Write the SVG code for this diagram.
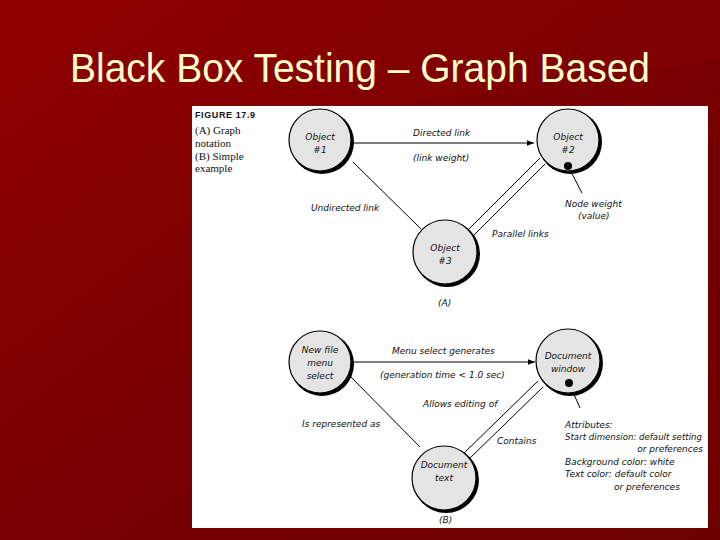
<svg xmlns="http://www.w3.org/2000/svg" width="720" height="540" viewBox="0 0 720 540">
<defs>
<linearGradient id="bg" x1="0" y1="0" x2="1" y2="1">
<stop offset="0" stop-color="#930000"/>
<stop offset="0.45" stop-color="#7a0000"/>
<stop offset="1" stop-color="#6c0000"/>
</linearGradient>
<marker id="arr" viewBox="0 0 10 10" refX="10" refY="5" markerWidth="7" markerHeight="7" markerUnits="userSpaceOnUse" orient="auto">
<path d="M0,1 L10,5 L0,9 z" fill="#000"/>
</marker>
<style>
.title{font-family:"Liberation Sans","DejaVu Sans",sans-serif;font-size:40px;fill:#ffffcc}
.node{fill:#e4e4e4;stroke:#000;stroke-width:1.2}
.shadow{fill:#000}
.lbl{font-family:"DejaVu Sans","Liberation Sans",sans-serif;font-style:italic;font-size:9px;fill:#111}
.nt{font-family:"DejaVu Sans","Liberation Sans",sans-serif;font-style:italic;font-size:9px;fill:#111;text-anchor:middle}
.cap{font-family:"Liberation Serif","DejaVu Serif",serif;font-size:11px;fill:#111}
.fig{font-family:"Liberation Sans","DejaVu Sans",sans-serif;font-weight:bold;font-size:9px;fill:#111;letter-spacing:0.6px}
.ln{stroke:#000;stroke-width:1;fill:none}
</style>
</defs>
<rect x="0" y="0" width="720" height="540" fill="url(#bg)"/>
<polygon points="0,0 720,0 720,60 0,160" fill="#8a0000" opacity="0.35"/>
<text class="title" x="70" y="82" textLength="580" lengthAdjust="spacingAndGlyphs">Black Box Testing – Graph Based</text>
<rect x="192" y="106" width="516" height="422" fill="#ffffff"/>

<g id="caption">
<text class="fig" x="195" y="118">FIGURE 17.9</text>
<text class="cap" x="195" y="134">(A) Graph</text>
<text class="cap" x="195" y="147">notation</text>
<text class="cap" x="195" y="160">(B) Simple</text>
<text class="cap" x="195" y="172">example</text>
</g>

<g id="connectors">
<line class="ln" x1="352" y1="143" x2="534" y2="143" marker-end="url(#arr)"/>
<line class="ln" x1="353" y1="162" x2="421" y2="229"/>
<line class="ln" x1="468" y1="230" x2="540" y2="158"/>
<line class="ln" x1="473" y1="236" x2="545" y2="164"/>
<line class="ln" x1="568" y1="166" x2="582" y2="193"/>
<line class="ln" x1="352" y1="362" x2="535" y2="362" marker-end="url(#arr)"/>
<line class="ln" x1="348" y1="374" x2="420" y2="447"/>
<line class="ln" x1="462" y1="455" x2="538" y2="381"/>
<line class="ln" x1="467" y1="461" x2="543" y2="387"/>
<line class="ln" x1="569" y1="383" x2="580" y2="408"/>
<text class="lbl" x="413" y="136">Directed link</text>
<text class="lbl" x="413" y="161">(link weight)</text>
<text class="lbl" x="311" y="211">Undirected link</text>
<text class="lbl" x="492" y="237">Parallel links</text>
<text class="lbl" x="565" y="207">Node weight</text>
<text class="lbl" x="578" y="219">(value)</text>
<text class="lbl" x="438" y="306">(A)</text>
<text class="lbl" x="392" y="354">Menu select generates</text>
<text class="lbl" x="380" y="378">(generation time &lt; 1.0 sec)</text>
<text class="lbl" x="423" y="407" font-style="normal">Allows editing of</text>
<text class="lbl" x="302" y="427">Is represented as</text>
<text class="lbl" x="497" y="444">Contains</text>
<text class="lbl" x="439" y="523">(B)</text>
<text class="lbl" x="565" y="428">Attributes:</text>
<text class="lbl" x="565" y="440" textLength="137" lengthAdjust="spacingAndGlyphs">Start dimension: default setting</text>
<text class="lbl" x="703" y="452" text-anchor="end">or preferences</text>
<text class="lbl" x="565" y="465">Background color: white</text>
<text class="lbl" x="565" y="477">Text color: default color</text>
<text class="lbl" x="614" y="490">or preferences</text>
</g>

<g id="n1">
<circle class="shadow" cx="322" cy="142" r="32"/>
<circle class="node" cx="320" cy="140" r="31"/>
<text class="nt" x="320" y="140">Object</text>
<text class="nt" x="320" y="153">#1</text>
</g>
<g id="n2">
<circle class="shadow" cx="570" cy="142" r="32"/>
<circle class="node" cx="568" cy="140" r="31"/>
<text class="nt" x="568" y="140">Object</text>
<text class="nt" x="568" y="153">#2</text>
<circle cx="568" cy="166" r="4" fill="#000"/>
</g>
<g id="n3">
<circle class="shadow" cx="447" cy="254" r="33"/>
<circle class="node" cx="445" cy="252" r="32"/>
<text class="nt" x="445" y="251">Object</text>
<text class="nt" x="445" y="264">#3</text>
</g>
<g id="n4">
<circle class="shadow" cx="322" cy="364" r="32"/>
<circle class="node" cx="320" cy="362" r="31"/>
<text class="nt" x="320" y="353">New file</text>
<text class="nt" x="320" y="366">menu</text>
<text class="nt" x="320" y="379">select</text>
</g>
<g id="n5">
<circle class="shadow" cx="570" cy="363" r="33"/>
<circle class="node" cx="568" cy="361" r="32"/>
<text class="nt" x="568" y="359">Document</text>
<text class="nt" x="568" y="372">window</text>
<circle cx="569" cy="383" r="4" fill="#000"/>
</g>
<g id="n6">
<circle class="shadow" cx="446" cy="480" r="33"/>
<circle class="node" cx="444" cy="478" r="32"/>
<text class="nt" x="444" y="468">Document</text>
<text class="nt" x="444" y="481">text</text>
</g>
</svg>
